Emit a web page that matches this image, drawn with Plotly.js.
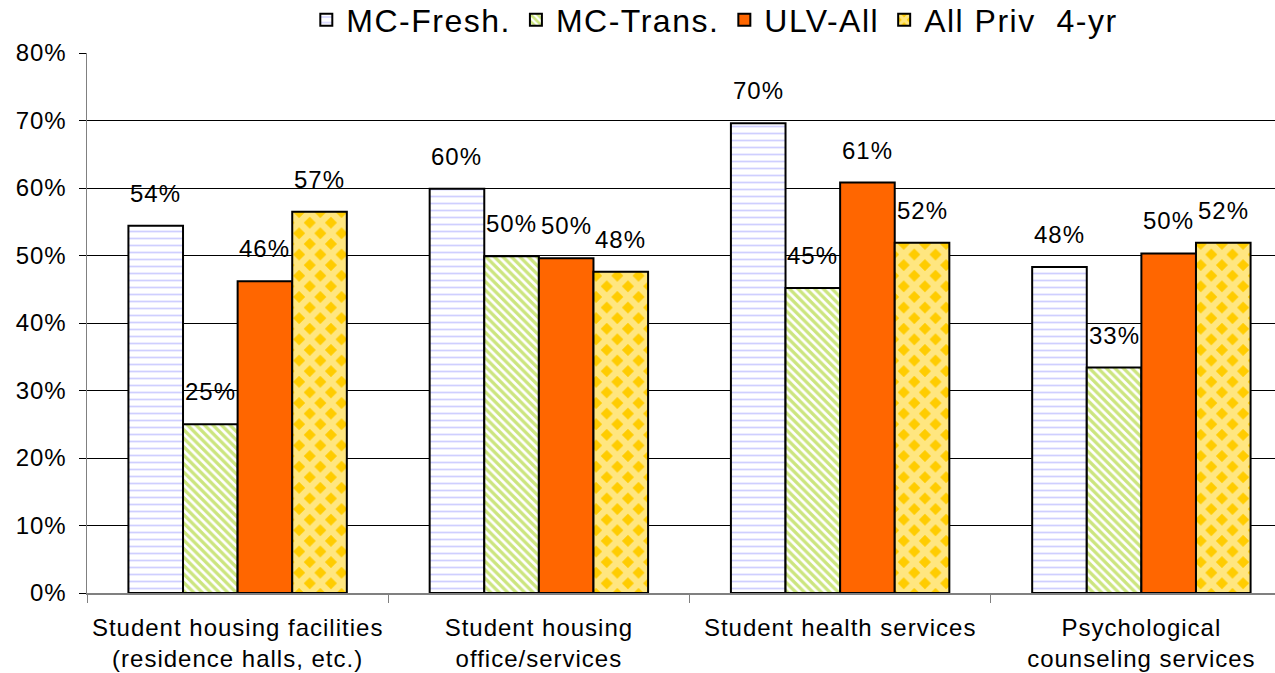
<!DOCTYPE html>
<html>
<head>
<meta charset="utf-8">
<script src="https://cdn.plot.ly/plotly-3.0.1.min.js"></script>
<style>
html,body{margin:0;padding:0;overflow:hidden;background:#fff;width:1275px;height:673px;}
#chart{width:1295px;height:673px;}
.legendtext{letter-spacing:1.5px;}
.xtick text,.ytick text,.annotation-text{letter-spacing:1px;}
</style>
</head>
<body>
<div id="chart"></div>
<script>
const categories = [
  "Student housing facilities<br>(residence halls, etc.)",
  "Student housing<br>office/services",
  "Student health services",
  "Psychological<br>counseling services"
];
const seriesNames = ["MC-Fresh.", "MC-Trans.", "ULV-All", "All Priv  4-yr"];
const mcFresh = [54.4, 59.9, 69.6, 48.3];
const mcTrans = [25.0, 49.9, 45.2, 33.4];
const ulvAll  = [46.2, 49.6, 60.8, 50.3];
const allPriv = [56.5, 47.6, 51.9, 51.9];
const yTickVals = [0, 10, 20, 30, 40, 50, 60, 70, 80];

const seriesValues = [mcFresh, mcTrans, ulvAll, allPriv];
const patterns = [
  {shape: "-", fgcolor: "#a0a0ff", bgcolor: "#ffffff", size: 7, solidity: 0.25, fillmode: "overlay"},
  {shape: "\\", fgcolor: "#99cc00", bgcolor: "#ffffff", size: 6, solidity: 0.55, fillmode: "overlay"},
  null,
  {shape: "x", fgcolor: "#ffffff", bgcolor: "#ffcc00", size: 15, solidity: 0.68, fillmode: "overlay"}
];
const colors = ["#ffffff", "#ffffff", "#ff6600", "#ffcc00"];
const FONT = "Liberation Sans, Arial, sans-serif";

const traces = seriesValues.map((vals, i) => {
  const m = {color: colors[i], line: {color: "#000", width: 2}};
  if (patterns[i]) m.pattern = patterns[i];
  return {
    type: "bar", name: seriesNames[i], x: categories, y: vals,
    marker: m, hoverinfo: "skip"
  };
});

const W = 1295, H = 673;
const margin = {l: 87, r: 3, t: 53, b: 80, pad: 0, autoexpand: false};
const bargap = 0.275;
const plotW = W - margin.l - margin.r;
const plotH = H - margin.t - margin.b;
const bw = (plotW / categories.length) * (1 - bargap) / seriesValues.length;

const annotations = [];
seriesValues.forEach((vals, i) => {
  vals.forEach((v, j) => {
    annotations.push({
      x: j, y: v, xref: "x", yref: "y",
      text: Math.round(v) + "%", showarrow: false,
      xanchor: "center", yanchor: "bottom",
      xshift: (i - 1.5) * bw, yshift: 17,
      font: {family: FONT, size: 24, color: "#000"}
    });
  });
});

const layout = {
  width: W, height: H, margin: margin,
  paper_bgcolor: "#fff", plot_bgcolor: "#fff",
  barmode: "group", bargap: bargap, bargroupgap: 0,
  font: {family: FONT, color: "#000"},
  showlegend: true,
  legend: {
    orientation: "h", x: 0.521, xanchor: "center",
    y: 1 + 33 / plotH, yanchor: "middle",
    bgcolor: "#fff", borderwidth: 0,
    font: {family: FONT, size: 32, color: "#000"},
    itemwidth: 30, traceorder: "normal"
  },
  shapes: [{
    type: "rect", xref: "paper", yref: "paper", layer: "above",
    x0: (316 - margin.l) / plotW, x1: (1118 - margin.l) / plotW,
    y0: 1 - 2 / plotH, y1: 1 + 3 / plotH,
    fillcolor: "#fff", line: {width: 0}
  }],
  xaxis: {
    type: "category", tickfont: {family: FONT, size: 24, color: "#000"},
    showline: true, linecolor: "#808080", linewidth: 2,
    ticks: "outside", tickson: "boundaries", ticklen: 8, tickcolor: "#808080", tickwidth: 1,
    ticklabelstandoff: 12, automargin: false,
    showgrid: false, zeroline: false, fixedrange: true
  },
  yaxis: {
    range: [0, 80], tickvals: yTickVals, ticktext: yTickVals.map(v => v + "%"),
    tickfont: {family: FONT, size: 24, color: "#000"},
    showline: true, linecolor: "#808080", linewidth: 1.5,
    ticks: "outside", ticklen: 7, tickcolor: "#000", tickwidth: 1,
    ticklabelstandoff: 7, automargin: false,
    showgrid: true, gridcolor: "#000", gridwidth: 1,
    zeroline: false, fixedrange: true
  },
  annotations: annotations
};

Plotly.newPlot("chart", traces, layout, {displayModeBar: false, staticPlot: true});
</script>
</body>
</html>
